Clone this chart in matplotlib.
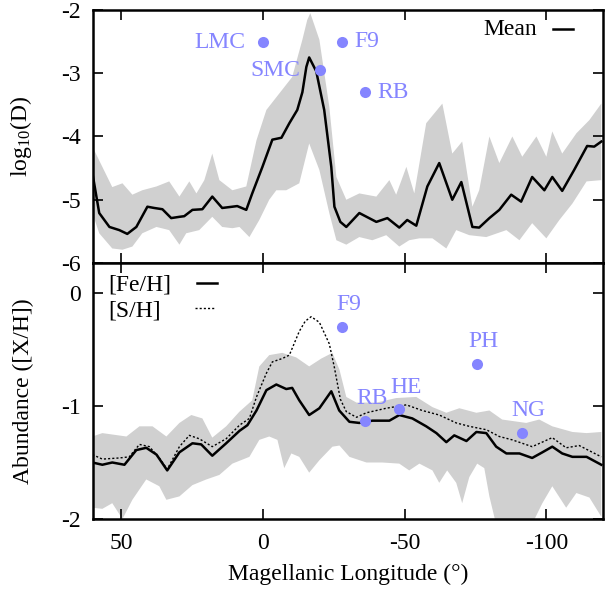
import numpy as np
import matplotlib
matplotlib.use('Agg')
import matplotlib.pyplot as plt

plt.rcParams['font.family'] = ['Liberation Serif', 'DejaVu Serif']
plt.rcParams['mathtext.fontset'] = 'custom'
plt.rcParams['mathtext.rm'] = 'Liberation Serif'
plt.rcParams['mathtext.it'] = 'Liberation Serif:italic'
plt.rcParams['axes.unicode_minus'] = False

# ---- top panel: log10(D) ----
mean_lon = [60.2, 57.8, 54.2, 50.7, 47.9, 44.7, 40.8, 38.4, 35.5, 32.4, 29.5, 27.8, 24.9,
            21.4, 17.9, 14.4, 10.8, 9.1, 5.9, 3.8, 0.2, -3.3, -6.5, -9.3, -12.1, -13.9,
            -15.3, -16.3, -18.8, -21.6, -24.1, -25.2, -27.3, -29.4, -34.0, -40.0, -43.9,
            -48.1, -50.9, -54.1, -58.0, -62.2, -66.8, -70.0, -73.9, -76.3, -79.9, -83.4,
            -87.6, -91.1, -95.0, -99.3, -102.1, -105.6, -109.8, -114.4, -116.9, -119.4]
mean_d = [-4.58, -5.21, -5.43, -5.48, -5.54, -5.43, -5.11, -5.13, -5.15, -5.29, -5.27, -5.26,
          -5.16, -5.15, -4.95, -5.13, -5.11, -5.10, -5.16, -4.90, -4.48, -4.05, -4.02, -3.79,
          -3.58, -3.30, -2.90, -2.75, -2.97, -3.58, -4.48, -5.11, -5.35, -5.43, -5.21, -5.35,
          -5.29, -5.44, -5.32, -5.41, -4.79, -4.42, -5.00, -4.72, -5.43, -5.44, -5.29, -5.16,
          -4.92, -5.03, -4.64, -4.85, -4.64, -4.86, -4.53, -4.15, -4.16, -4.08]

d_up_lon = [60.2, 56.7, 53.2, 49.6, 46.1, 42.6, 37.6, 33.1, 29.5, 26.0, 23.5, 20.7, 17.9,
            15.4, 10.8, 5.9, 2.3, -1.2, -6.8, -10.3, -13.9, -15.6, -16.7, -19.9, -23.4,
            -25.9, -29.4, -34.0, -40.0, -44.6, -47.0, -50.6, -53.4, -57.6, -63.3, -66.8,
            -70.3, -73.9, -76.3, -79.9, -83.4, -88.0, -91.5, -96.5, -100.0, -102.1, -105.6,
            -110.6, -115.2, -119.4]
d_up = [-4.16, -4.48, -4.80, -4.74, -4.92, -4.85, -4.79, -4.71, -4.95, -4.71, -4.90, -4.69,
        -4.27, -4.69, -4.85, -4.79, -4.06, -3.58, -3.26, -3.06, -2.47, -2.16, -2.05, -2.47,
        -3.53, -4.64, -5.00, -4.90, -4.95, -4.69, -4.92, -4.48, -4.90, -3.79, -3.48, -4.27,
        -4.08, -5.11, -4.85, -4.00, -4.42, -4.00, -4.32, -4.00, -4.32, -3.92, -4.27, -3.95,
        -3.74, -3.48]

d_low_lon = [60.2, 57.8, 53.2, 49.6, 46.1, 42.6, 37.6, 33.1, 29.5, 27.1, 22.5, 17.9, 14.4,
             10.8, 8.3, 4.8, 1.3, -2.2, -4.7, -8.2, -12.8, -16.3, -19.9, -23.4, -25.9,
             -29.4, -34.0, -38.6, -43.5, -48.1, -51.6, -55.2, -59.8, -64.7, -68.2, -72.8,
             -78.8, -85.9, -90.5, -95.0, -100.0, -104.6, -109.2, -114.2, -119.4]
d_low = [-5.21, -5.53, -5.77, -5.79, -5.74, -5.53, -5.43, -5.48, -5.71, -5.53, -5.48, -5.27,
         -5.43, -5.45, -5.43, -5.59, -5.32, -5.00, -4.85, -4.85, -4.74, -4.11, -4.53, -5.21,
         -5.64, -5.71, -5.59, -5.64, -5.56, -5.74, -5.64, -5.61, -5.61, -5.77, -5.48, -5.56,
         -5.59, -5.48, -5.64, -5.37, -5.61, -5.32, -5.06, -4.71, -4.69]

d_obj = ['LMC', 'SMC', 'F9', 'RB']
d_obj_lon = [0.0, -20.0, -28.0, -36.1]
d_obj_val = [-2.51, -2.95, -2.50, -3.30]

# ---- bottom panel: abundances ----
fe_lon = [60.2, 56.7, 53.2, 48.9, 44.7, 41.2, 37.6, 33.8, 29.5, 24.9, 21.8, 17.9, 13.0,
          8.3, 5.5, 2.3, -1.2, -4.7, -8.2, -10.3, -12.8, -16.3, -19.9, -24.1, -26.9,
          -30.5, -34.0, -38.6, -44.6, -48.1, -52.7, -57.6, -61.2, -64.7, -67.5, -71.8,
          -75.3, -78.8, -82.3, -85.9, -90.5, -95.0, -98.6, -102.1, -105.6, -109.2, -114.2,
          -119.4]
fe_h = [-1.50, -1.52, -1.50, -1.52, -1.39, -1.37, -1.43, -1.57, -1.41, -1.33, -1.34, -1.44,
        -1.33, -1.22, -1.17, -1.04, -0.86, -0.81, -0.85, -0.84, -0.95, -1.08, -1.02, -0.87,
        -1.04, -1.14, -1.15, -1.13, -1.13, -1.08, -1.11, -1.18, -1.24, -1.32, -1.26, -1.31,
        -1.23, -1.24, -1.36, -1.42, -1.42, -1.46, -1.41, -1.36, -1.42, -1.45, -1.45, -1.52]

s_lon = [60.2, 56.7, 50.7, 47.2, 43.6, 40.1, 36.6, 33.8, 29.5, 26.0, 22.5, 17.9, 13.0,
         8.3, 4.8, 2.3, -1.2, -3.3, -6.8, -9.3, -12.8, -14.9, -17.0, -19.9, -23.4, -25.2,
         -27.3, -29.4, -33.0, -36.5, -43.5, -50.6, -56.2, -62.2, -68.2, -72.8, -78.8,
         -83.4, -88.0, -95.0, -102.1, -107.0, -111.6, -119.4]
s_h = [-1.43, -1.47, -1.46, -1.45, -1.34, -1.36, -1.46, -1.56, -1.36, -1.26, -1.29, -1.36,
       -1.29, -1.17, -1.11, -0.92, -0.71, -0.61, -0.58, -0.55, -0.34, -0.25, -0.21, -0.26,
       -0.45, -0.66, -0.94, -1.05, -1.10, -1.06, -1.02, -0.99, -1.04, -1.08, -1.15, -1.18,
       -1.21, -1.27, -1.30, -1.36, -1.28, -1.37, -1.35, -1.45]

x_up_lon = [60.2, 56.7, 48.2, 43.6, 39.0, 34.1, 29.5, 25.3, 21.4, 17.9, 13.0, 8.3, 3.8,
            1.3, -2.2, -6.8, -11.7, -16.3, -20.6, -24.5, -27.0, -29.4, -33.0, -40.0,
            -47.0, -54.1, -59.8, -64.7, -69.3, -75.3, -79.9, -84.4, -92.9, -97.5, -102.1,
            -109.2, -114.2, -119.4]
x_up = [-1.27, -1.24, -1.27, -1.18, -1.18, -1.27, -1.15, -1.08, -1.11, -1.28, -1.18, -1.05,
        -0.95, -0.65, -0.55, -0.53, -0.57, -0.65, -0.58, -0.53, -0.68, -0.92, -0.97, -0.97,
        -0.93, -0.92, -1.01, -1.06, -1.02, -1.06, -1.04, -1.12, -1.15, -1.12, -1.18, -1.23,
        -1.24, -1.23]

x_low_lon = [60.2, 56.7, 53.2, 49.6, 46.1, 41.2, 36.6, 34.1, 29.5, 24.9, 20.0, 15.4, 10.8,
             4.8, 1.3, -2.2, -5.1, -7.5, -10.0, -12.8, -16.3, -19.9, -24.5, -27.0, -30.5,
             -36.5, -42.1, -48.1, -51.6, -55.2, -59.8, -62.2, -65.0, -68.2, -70.3, -72.8,
             -75.6, -78.1, -79.9, -82.3, -86.8, -93.9, -98.6, -102.1, -107.0, -110.6,
             -115.2, -119.4]
x_low = [-1.90, -1.91, -1.86, -2.00, -1.83, -1.65, -1.71, -1.83, -1.80, -1.70, -1.65, -1.61,
         -1.51, -1.45, -1.30, -1.27, -1.30, -1.55, -1.42, -1.45, -1.59, -1.48, -1.36, -1.35,
         -1.45, -1.50, -1.50, -1.51, -1.57, -1.51, -1.57, -1.68, -1.57, -1.68, -1.86, -1.63,
         -1.51, -1.55, -1.80, -2.05, -2.10, -2.10, -1.86, -1.71, -1.90, -1.77, -1.81, -1.98]

x_obj = ['F9', 'PH', 'RB', 'HE', 'NG']
x_obj_lon = [-27.9, -75.5, -36.1, -48.1, -91.4]
x_obj_val = [-0.30, -0.63, -1.13, -1.03, -1.24]

band_color = '#d0d0d0'
pt_color = '#8585ff'
fs = 17

fig = plt.figure(figsize=(6.13, 5.98), dpi=100)
ax1 = fig.add_axes([0.1517, 0.5602, 0.832, 0.4231])
ax2 = fig.add_axes([0.1517, 0.1321, 0.832, 0.4281])

# top panel
ax1.fill(np.concatenate([d_up_lon, d_low_lon[::-1]]),
         np.concatenate([d_up, d_low[::-1]]), color=band_color, lw=0, zorder=1)
ax1.plot(mean_lon, mean_d, color='black', lw=1.8, zorder=3)
ax1.plot(d_obj_lon, d_obj_val, 'o', color=pt_color, ms=8, mec='none', zorder=4)
offsets_top = {'LMC': (-13, 0, 'right'), 'SMC': (-14, 0, 'right'),
               'F9': (9, 0, 'left'), 'RB': (9, 0, 'left')}
for name, lon, val in zip(d_obj, d_obj_lon, d_obj_val):
    dx, dy, ha = offsets_top[name]
    ax1.annotate(name, (lon, val), xytext=(dx, dy), textcoords='offset points',
                 ha=ha, va='center', color=pt_color, fontsize=fs, zorder=5)
ax1.set_ylim(-6, -2)
ax1.set_yticks([-6, -5, -4, -3, -2])
ax1.set_ylabel(r'log$_{10}$(D)', fontsize=fs)
ax1.text(0.871, 0.921, 'Mean', transform=ax1.transAxes, ha='right', va='center', fontsize=fs)
ax1.plot([0.902, 0.941], [0.925, 0.925], transform=ax1.transAxes, color='black', lw=1.8)
ax1.tick_params(labelbottom=False)

# bottom panel
ax2.fill(np.concatenate([x_up_lon, x_low_lon[::-1]]),
         np.concatenate([x_up, x_low[::-1]]), color=band_color, lw=0, zorder=1)
ax2.plot(s_lon, s_h, color='black', lw=1.0, ls=(0, (1.5, 1.5)), zorder=3)
ax2.plot(fe_lon, fe_h, color='black', lw=1.8, zorder=3)
ax2.plot(x_obj_lon, x_obj_val, 'o', color=pt_color, ms=8, mec='none', zorder=4)
for name, lon, val in zip(x_obj, x_obj_lon, x_obj_val):
    ax2.annotate(name, (lon, val), xytext=(5, 16), textcoords='offset points',
                 ha='center', va='center', color=pt_color, fontsize=fs, zorder=5)
ax2.set_ylim(-2, 0.265)
ax2.set_yticks([-2, -1, 0])
ax2.set_ylabel('Abundance ([X/H])', fontsize=fs)
ax2.set_xlabel('Magellanic Longitude (\u00b0)', fontsize=fs)
ax2.text(0.029, 0.914, '[Fe/H]', transform=ax2.transAxes, ha='left', va='center', fontsize=fs)
ax2.text(0.029, 0.8125, '[S/H]', transform=ax2.transAxes, ha='left', va='center', fontsize=fs)
ax2.plot([0.204, 0.243], [0.922, 0.922], transform=ax2.transAxes, color='black', lw=1.8)
ax2.plot([0.200, 0.239], [0.824, 0.824], transform=ax2.transAxes, color='black', lw=1.0,
         ls=(0, (1.5, 1.5)))

for ax in (ax1, ax2):
    ax.set_xlim(60, -120)
    ax.set_xticks([50, 0, -50, -100])
    ax.tick_params(direction='in', top=True, right=True, length=7, width=1.2,
                   labelsize=fs, pad=9)
    for sp in ax.spines.values():
        sp.set_linewidth(1.8)
    ax.yaxis.set_label_coords(-0.115, 0.5)
ax2.tick_params(axis='x', pad=10)
ax2.xaxis.set_label_coords(0.5, -0.175)

fig.savefig('out.png', dpi=100)
